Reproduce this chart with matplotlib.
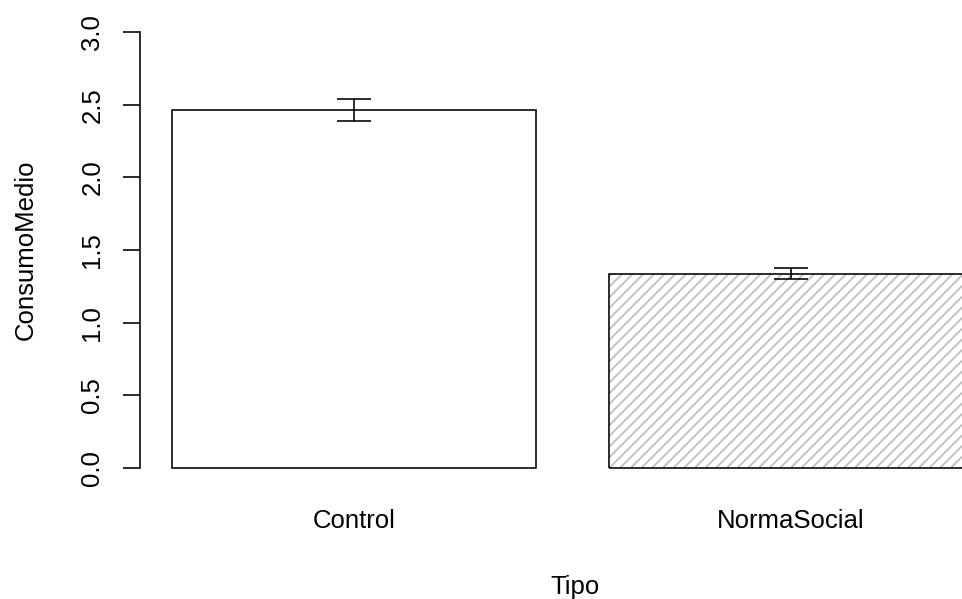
import numpy as np
import matplotlib
matplotlib.use('Agg')
import matplotlib.pyplot as plt

# dane
tipos = ['Control', 'NormaSocial']
consumo_medio = [2.464, 1.338]
error = [0.076, 0.041]
rellenos = ['', '////']

plt.rcParams['font.family'] = ['Liberation Sans', 'DejaVu Sans']
plt.rcParams['hatch.linewidth'] = 1.0

DPI = 128
fig = plt.figure(figsize=(962 / DPI, 599 / DPI), dpi=DPI)
# obszar rysunku jak w R (wychodzi poza prawa krawedz)
ax = fig.add_axes([140 / 962, 113.6 / 599, 865 / 962, 470.8 / 599])

# pozycje slupkow jak w barplot() z R: width=1, space=0.2
szer = 1.0
odstep = 0.2
x = odstep + szer / 2 + np.arange(len(tipos)) * (szer + odstep)

for xi, val, hatch in zip(x, consumo_medio, rellenos):
    if hatch:
        ax.bar(xi, val, width=szer, color='white', edgecolor='#bebebe',
               hatch=hatch, linewidth=0)
    ax.bar(xi, val, width=szer, fill=False, edgecolor='black', linewidth=0.9)

ax.errorbar(x, consumo_medio, yerr=error, fmt='none', ecolor='black',
            elinewidth=0.9, capsize=9.5, capthick=0.9)

ax.set_xlim(x[0] - szer / 2 - 0.088, x[-1] + szer / 2 + 0.088)
ax.set_ylim(-0.12, 3.12)

for s in ['top', 'right', 'bottom']:
    ax.spines[s].set_visible(False)
ax.spines['left'].set_bounds(0, 3)
ax.spines['left'].set_linewidth(0.9)

ax.set_yticks(np.arange(0, 3.01, 0.5))
ax.set_yticklabels([f'{v:.1f}' for v in np.arange(0, 3.01, 0.5)],
                   rotation=90, va='center', fontsize=14.5)
ax.tick_params(axis='y', length=9.6, width=0.9, pad=10.5)

ax.set_xticks(x)
ax.set_xticklabels(tipos, fontsize=14.5)
ax.tick_params(axis='x', length=0, pad=13)

ax.set_ylabel('ConsumoMedio', fontsize=14.5, labelpad=24)
fig.text(575 / 962, 1 - 587 / 599, 'Tipo', fontsize=14.5, ha='center', va='center')

fig.savefig('out.png', dpi=DPI)
